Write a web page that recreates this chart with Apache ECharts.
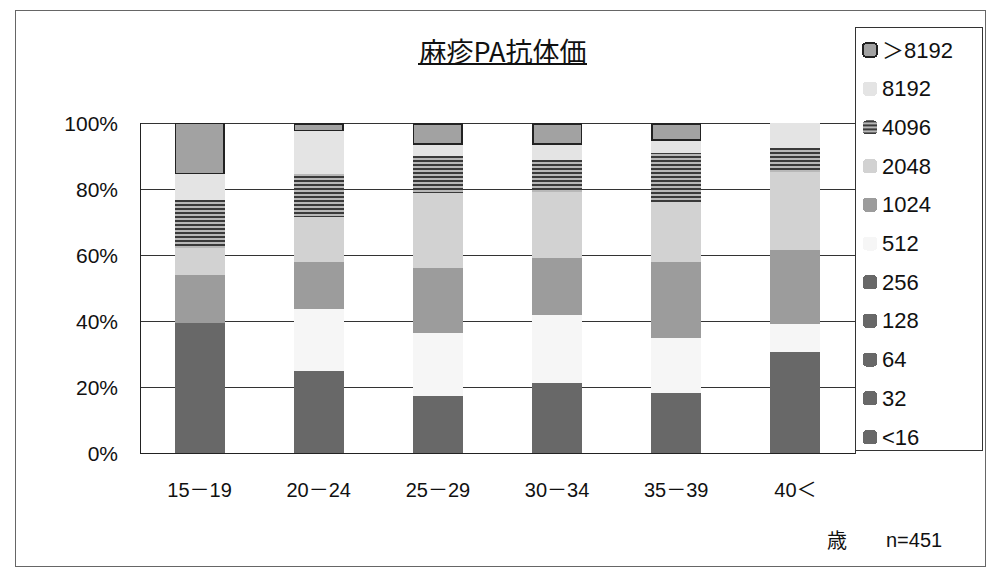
<!DOCTYPE html>
<html>
<head>
<meta charset="utf-8">
<script src="https://cdn.jsdelivr.net/npm/echarts@6/dist/echarts.min.js"></script>
<style>
  html, body { margin: 0; padding: 0; background: #fff; }
  #chart { width: 992px; height: 574px; }
  /* 積み上げ境界の継ぎ目を消す */
  #chart svg path { shape-rendering: crispEdges; }
</style>
</head>
<body>
<div id="chart"></div>
<script>
  // 年齢区分と抗体価
  var ages = ['15－19', '20－24', '25－29', '30－34', '35－39', '40＜'];
  var titers = ['<16', '32', '64', '128', '256', '512', '1024', '2048', '4096', '8192', '＞8192'];
  var yTicks = [0, 20, 40, 60, 80, 100];

  // 割合 (%)  ※スキャン画像から読み取った推定値
  var t16   = [12, 5, 3, 4, 3, 6];
  var t32   = [8, 4, 3, 4, 3.5, 6];
  var t64   = [7, 5, 3, 4, 3.5, 6];
  var t128  = [6, 5, 4, 4.5, 4, 6];
  var t256  = [6.4, 6, 4.2, 4.7, 4.3, 6.7];
  var t512  = [0, 18.5, 19.2, 20.7, 16.4, 8.4];
  var t1024 = [14.6, 14.5, 19.7, 17.2, 23.2, 22.3];
  var t2048 = [8, 13.5, 22.7, 20, 18.2, 23.9];
  var t4096 = [14.7, 13, 11.1, 9.8, 14.8, 7.1];
  var t8192 = [7.8, 13, 3.5, 4.5, 3.7, 7.6];
  var tOver = [15.5, 2.5, 6.6, 6.6, 5.4, 0];

  var values = [t16, t32, t64, t128, t256, t512, t1024, t2048, t4096, t8192, tOver];
  var colors = ['#686868', '#686868', '#686868', '#686868', '#686868', '#f6f6f6',
                '#9c9c9c', '#d2d2d2', '#b8b8b8', '#e4e4e4', '#a2a2a2'];

  var numFont = '"Liberation Sans", "Noto Sans CJK JP"';

  var myChart = echarts.init(document.getElementById('chart'), null, { renderer: 'svg' });

  var series = titers.map(function (name, i) {
    var style = { color: colors[i] };
    if (name === '4096') {
      style.decal = {
        symbol: 'rect',
        symbolSize: 1,
        dashArrayX: [1, 0],
        dashArrayY: [2, 2],
        color: '#3a3a3a'
      };
    }
    if (name === '＞8192') {
      style.borderColor = '#222';
      style.borderWidth = 1.5;
    }
    return {
      name: name,
      type: 'bar',
      stack: 'all',
      barWidth: '42%',
      // 0% の区分は描かない (枠線だけが残らないように)
      data: values[i].map(function (v) { return v === 0 ? null : v; }),
      itemStyle: style
    };
  });

  var option = {
    animation: false,
    backgroundColor: '#fff',
    title: {
      text: '麻疹PA抗体価',
      left: 498,
      top: 32,
      textAlign: 'center',
      textStyle: {
        fontFamily: 'Noto Sans CJK JP',
        fontSize: 27,
        fontWeight: 'normal',
        color: '#111'
      }
    },
    legend: {
      orient: 'vertical',
      left: 855,
      top: 27,
      data: titers.slice().reverse(),
      itemWidth: 14,
      itemHeight: 14,
      itemGap: 16.7,
      padding: [12, 30, 2, 7],
      borderColor: '#333',
      borderWidth: 1,
      textStyle: {
        fontFamily: numFont,
        fontSize: 22,
        color: '#111',
        lineHeight: 22
      }
    },
    grid: {
      left: 140,
      top: 123,
      width: 715,
      height: 330,
      show: true,
      borderColor: '#333',
      borderWidth: 1
    },
    xAxis: {
      type: 'category',
      data: ages,
      axisLine: { lineStyle: { color: '#222' } },
      axisTick: { inside: true, length: 6, lineStyle: { color: '#222' } },
      axisLabel: {
        margin: 27,
        fontFamily: numFont,
        fontSize: 20,
        color: '#111'
      }
    },
    yAxis: {
      type: 'value',
      min: yTicks[0],
      max: yTicks[yTicks.length - 1],
      interval: 20,
      axisLine: { show: true, lineStyle: { color: '#222' } },
      axisTick: { show: false },
      splitLine: { lineStyle: { color: '#333', width: 1 } },
      axisLabel: {
        margin: 22,
        formatter: '{value}%',
        fontFamily: numFont,
        fontSize: 21,
        color: '#111'
      }
    },
    graphic: [
      {
        type: 'rect',
        shape: { x: 15, y: 10, width: 970, height: 556 },
        style: { fill: 'none', stroke: '#666', lineWidth: 1 },
        silent: true
      },
      {
        type: 'line',
        shape: { x1: 418, y1: 64, x2: 587, y2: 64 },
        style: { stroke: '#111', lineWidth: 1.2 }
      },
      {
        type: 'text',
        left: 827,
        top: 529,
        style: { text: '歳', font: '20px "Noto Sans CJK JP"', fill: '#111' }
      },
      {
        type: 'text',
        left: 886,
        top: 530,
        style: { text: 'n=451', font: '20px "Liberation Sans"', fill: '#111' }
      }
    ],
    series: series
  };

  myChart.setOption(option);
</script>
</body>
</html>
